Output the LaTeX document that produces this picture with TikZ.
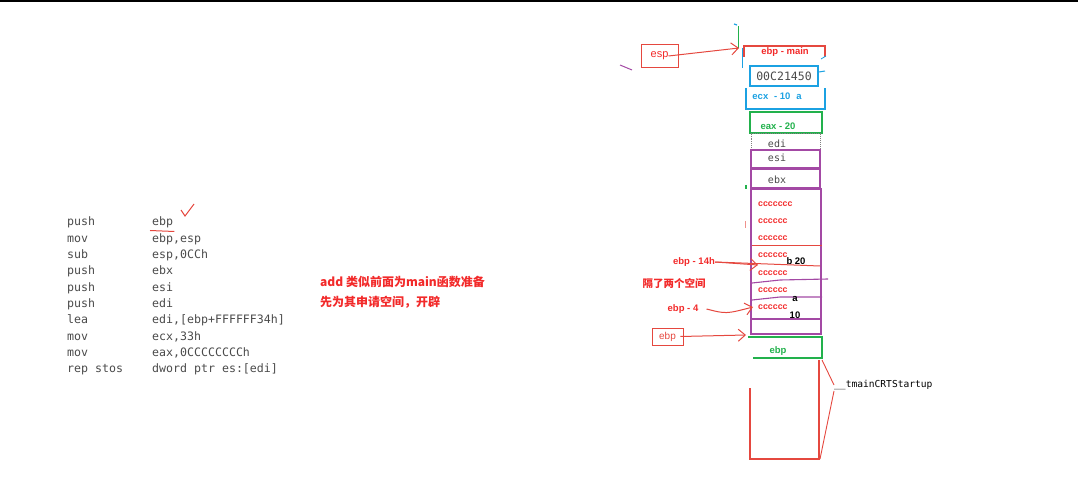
\documentclass[tikz,border=0pt]{standalone}
\usepackage{fontspec}
\setmainfont{Liberation Sans}
\newfontfamily\monofont{DejaVu Sans Mono}
\newfontfamily\cjk{Noto Sans CJK SC}
\usetikzlibrary{arrows.meta}
\definecolor{rd}{HTML}{E5483F}
\definecolor{rtxt}{HTML}{F22A2A}
\definecolor{bl}{HTML}{1BA1E2}
\definecolor{gr}{HTML}{22B14C}
\definecolor{pu}{HTML}{A349A4}
\definecolor{codegray}{HTML}{4A4A4A}
\tikzset{
  code/.style={anchor=base west, inner sep=0pt, text=codegray, font=\monofont\fontsize{11.6}{12}\selectfont},
  stk/.style={inner sep=0pt, font=\bfseries\fontsize{9.5}{10}\selectfont},
  cc/.style={stk, anchor=west, text=rtxt, font=\bfseries\fontsize{8.8}{10}\selectfont},
  lbl/.style={inner sep=0pt, text=rtxt, font=\bfseries\fontsize{9.5}{10}\selectfont},
  cn/.style={anchor=base west, inner sep=0pt, text=rtxt, font=\cjk\bfseries\fontsize{12}{14}\selectfont},
  rarrow/.style={rd, line width=1pt, -{Straight Barb[length=7pt,width=12pt]}},
}
\begin{document}
\begin{tikzpicture}[x=1pt,y=-1pt]
\useasboundingbox (0,0) rectangle (1078,478);
% top border line
\draw[line width=2pt] (0,1) -- (1078,1);

% ---------- code ----------
\foreach \i/\op/\arg in {0/push/ebp,1/mov/{ebp,esp},2/sub/{esp,0CCh},3/push/ebx,4/push/esi,5/push/edi,6/lea/{edi,[ebp+FFFFFF34h]},7/mov/{ecx,33h},8/mov/{eax,0CCCCCCCCh},9/rep stos/{dword ptr es:[edi]}}{
  \node[code] (op\i) at (67,{226+16.3*\i}) {\op};
  \node[code] (arg\i) at (152,{226+16.3*\i}) {\arg};
}
\draw[rd, line width=1pt] ([yshift=-4.5pt,xshift=-2pt]arg0.base west) -- ([yshift=-5.5pt,xshift=1pt]arg0.base east);
\draw[rd, line width=1pt] (181,210) -- (185,216) -- (194,204);

% ---------- chinese notes ----------
\node[cn] (n1) at (320,287) {add 类似前面为main函数准备};
\node[cn] (n2) at (320,306) {先为其申请空间，开辟};

% ---------- stack ----------
% ebp - main
\draw[rd, line width=1.1pt] (744,57) -- (744,46) -- (825,46) -- (825,57);
\draw[bl, line width=1pt] (742,48) -- (742,68);
\draw[gr, line width=1pt] (738,26) -- (738,48);
\draw[bl, line width=1.2pt] (734,24) -- (737,25);
\draw[bl, line width=0.8pt] (821,59) -- (826,56);
\node[stk, text=rtxt] (ebpmain) at (785,52) {ebp - main};

% 00C21450
\node[draw=bl, line width=1.8pt, minimum width=68pt, minimum height=20pt, inner sep=0pt,
      text=codegray, font=\monofont\fontsize{11.5}{12}\selectfont] (addr) at (784,76) {00C21450};
\draw[bl, line width=1pt] (819,72) -- (825,71);

% ecx
\draw[bl, line width=1.4pt] (746,88) -- (746,109) -- (825,109) -- (825,88);
\node[stk, text=bl] (ecx) at (777,96) {ecx\,\, - 10\,\, a};

% eax
\node[draw=gr, line width=1.8pt, minimum width=72pt, minimum height=21pt, inner sep=0pt] (eaxbox) at (786,122.5) {};
\node[stk, text=gr] (eax) at (778,126) {eax - 20};

% edi / esi / ebx
\node[draw=gray, densely dotted, line width=0.9pt, minimum width=69pt, minimum height=17pt, inner sep=0pt] (edibox) at (785.5,141.5) {};
\node[inner sep=0pt, text=codegray, font=\monofont\fontsize{10}{11}\selectfont] (edi) at (777,144) {edi};
\node[draw=pu, line width=1.2pt, minimum width=69pt, minimum height=18pt, inner sep=0pt] (esibox) at (785.5,159) {};
\node[inner sep=0pt, text=codegray, font=\monofont\fontsize{10}{11}\selectfont] (esi) at (777,158) {esi};
\node[draw=pu, line width=1.2pt, minimum width=69pt, minimum height=19pt, inner sep=0pt] (ebxbox) at (785.5,178.5) {};
\node[inner sep=0pt, text=codegray, font=\monofont\fontsize{10}{11}\selectfont] (ebx) at (777,180) {ebx};

% local area
\node[draw=pu, line width=2.2pt, minimum width=70pt, minimum height=145pt, inner sep=0pt] (locals) at (786,261.5) {};
\draw[rd, line width=1pt] (752,246) -- (822,246);
\draw[pu, line width=1.1pt] (752,283) -- (780,280) -- (828,279);
\draw[pu, line width=1.1pt] (752,300) -- (780,297) -- (822,297);
\draw[pu, line width=1.1pt] (752,319) -- (821,319);
\node[cc] (c1) at (758,204) {ccccccc};
\node[cc] (c2) at (758,221) {cccccc};
\node[cc] (c3) at (758,238) {cccccc};
\node[cc] (c4) at (758,255) {cccccc};
\node[cc] (c5) at (758,273) {cccccc};
\node[cc] (c6) at (758,290) {cccccc};
\node[cc] (c7) at (758,307) {cccccc};
\node[stk, text=black] (b20) at (796,261) {b 20};
\node[stk, text=black] (va) at (795,299) {a};
\node[stk, text=black] (v10) at (795,315) {10};

% small marks
\draw[gr, line width=1.5pt] (746,185) -- (746,189);
\draw[rd!60, line width=1pt] (745,221) -- (745,228);
\draw[pu, line width=1pt] (620,65) -- (632,70);

% labels & arrows on the left of the stack
\node[lbl] (l14) at (694,262) {ebp - 14h};
\coordinate (t14) at (758,265);
\coordinate (e14) at (820,266);
\draw[rd, line width=1pt] (l14.east) -- (e14);
\draw[rarrow] (l14.east) -- (t14);
\node[inner sep=0pt, text=rtxt, font=\cjk\bfseries\fontsize{10.5}{12}\selectfont] (gap) at (674,283) {隔了两个空间};
\node[lbl] (l4) at (683,309) {ebp - 4};
\coordinate (t4) at (753,307);
\draw[rarrow] ([xshift=8pt]l4.east) .. controls (726,314) .. (t4);

% esp box
\node[draw=rd, line width=1pt, minimum width=37pt, minimum height=23pt, inner sep=0pt, text=rtxt,
      font=\fontsize{11}{12}\selectfont] (esp) at (659.5,56) {esp};
\coordinate (espt) at (739,48);
\draw[rarrow] ([xshift=-10pt]esp.east) -- (espt);

% ebp small box
\node[draw=rd, line width=0.8pt, minimum width=31pt, minimum height=17pt, inner sep=0pt, text=rd,
      font=\fontsize{10}{11}\selectfont] (ebpbox) at (667.5,336.5) {ebp};
\coordinate (ebpt) at (746,335);
\draw[rarrow] ([xshift=-3pt]ebpbox.east) -- (ebpt);

% green ebp
\draw[gr, line width=2.2pt] (748,337) -- (822,337) -- (822,358) -- (753,358);
\node[stk, text=gr] (ebpg) at (778,351) {ebp};

% tmainCRTStartup frame
\draw[rd, line width=1.1pt] (750,388) -- (750,459) -- (819,459) -- (819,360);
\node[anchor=west, inner sep=0pt, text=black, font=\monofont\fontsize{9.6}{10}\selectfont] (crt) at (834,385) {\_\_tmainCRTStartup};
\draw[rd, line width=0.9pt] (822,360) -- (crt.west);
\draw[rd, line width=0.9pt] ([yshift=-6pt]crt.west) -- (820,459);
\end{tikzpicture}
\end{document}
